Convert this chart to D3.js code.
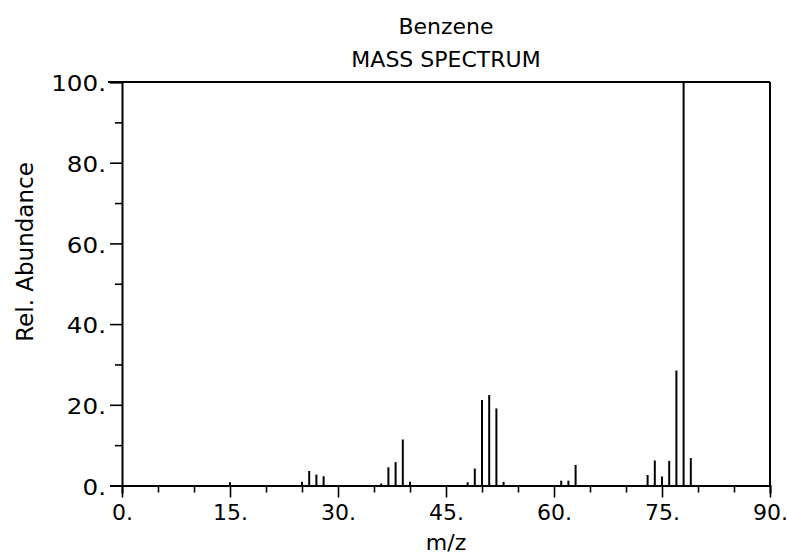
<!DOCTYPE html>
<html>
<head>
<meta charset="utf-8">
<script src="https://cdn.jsdelivr.net/npm/d3@7"></script>
<style>
  body { margin: 0; background: #fff; }
  text { font-family: "DejaVu Sans", sans-serif; fill: #000; }
</style>
</head>
<body>
<svg id="chart" width="787" height="555"></svg>
<script>
// peaks (m/z, relative abundance)
const mzValues = [15, 25, 26, 27, 28, 36, 37, 38, 39, 40, 48, 49, 50, 51, 52, 53, 61, 62, 63, 73, 74, 75, 76, 77, 78, 79];
const abundances = [0.8, 0.9, 3.6, 2.7, 2.3, 0.5, 4.5, 5.8, 11.4, 0.9, 0.8, 4.2, 21.2, 22.4, 19.1, 0.9, 1.2, 1.2, 5.1, 2.6, 6.2, 2.2, 6.1, 28.5, 100, 6.8];
const xTickLabels = [0, 15, 30, 45, 60, 75, 90];
const yTickLabels = [0, 20, 40, 60, 80, 100];

const svg = d3.select("#chart");
const margin = { top: 82, right: 17, bottom: 69.5, left: 122 };
const width = 787 - margin.left - margin.right;
const height = 555 - margin.top - margin.bottom;

const g = svg.append("g").attr("transform", `translate(${margin.left},${margin.top})`);

const x = d3.scaleLinear().domain([0, 90]).range([0, width]);
const y = d3.scaleLinear().domain([0, 100]).range([height, 0]);

// titles
svg.append("text").attr("x", margin.left + width / 2).attr("y", 34)
  .attr("text-anchor", "middle").style("font-size", "22px").text("Benzene");
svg.append("text").attr("x", margin.left + width / 2).attr("y", 67)
  .attr("text-anchor", "middle").style("font-size", "22px").text("MASS SPECTRUM");

// x axis: ticks every 5, labels every 15
const xAxis = d3.axisBottom(x)
  .tickValues(d3.range(0, 91, 5))
  .tickSize(8)
  .tickFormat((d) => (xTickLabels.includes(d) ? d + "." : ""));
const gx = g.append("g").attr("transform", `translate(0,${height})`).call(xAxis);
gx.select(".domain").attr("stroke-width", 2);
gx.selectAll(".tick line").attr("stroke-width", 1.6)
  .attr("y2", (d) => (xTickLabels.includes(d) ? 12 : 7));
gx.selectAll(".tick text").style("font-size", "22px").attr("y", 18).attr("dy", "0.75em");

// y axis: ticks every 10, labels every 20 (labels a bit wider, as in the scan)
const yAxis = d3.axisLeft(y)
  .tickValues(d3.range(0, 101, 10))
  .tickSize(12)
  .tickFormat((d) => (yTickLabels.includes(d) ? d + "." : ""));
const gy = g.append("g").call(yAxis);
gy.select(".domain").attr("stroke-width", 2);
gy.selectAll(".tick line").attr("stroke-width", 1.6)
  .attr("x2", (d) => (yTickLabels.includes(d) ? -12 : -7));
gy.selectAll(".tick text").style("font-size", "22px")
  .attr("x", -16 / 1.12).attr("dy", "0.4em").attr("transform", "scale(1.12,1)");

// top and right frame
g.append("line").attr("x1", x(0) - 14).attr("x2", x(90)).attr("y1", y(100)).attr("y2", y(100))
  .attr("stroke", "#000").attr("stroke-width", 2);
g.append("line").attr("x1", x(90)).attr("x2", x(90)).attr("y1", y(100)).attr("y2", y(0))
  .attr("stroke", "#000").attr("stroke-width", 2);

// axis titles
svg.append("text").attr("transform", "translate(25,252) rotate(-90)")
  .attr("text-anchor", "middle").attr("dy", "0.35em").style("font-size", "23px").text("Rel. Abundance");
svg.append("text").attr("x", margin.left + width / 2).attr("y", 550)
  .attr("text-anchor", "middle").style("font-size", "22px").text("m/z");

// peaks
const peaks = mzValues.map((m, i) => ({ mz: m, ab: abundances[i] }));
g.append("g").selectAll("line").data(peaks).join("line")
  .attr("x1", (d) => x(d.mz)).attr("x2", (d) => x(d.mz))
  .attr("y1", y(0)).attr("y2", (d) => y(d.ab))
  .attr("stroke", "#000").attr("stroke-width", 2);
</script>
</body>
</html>
